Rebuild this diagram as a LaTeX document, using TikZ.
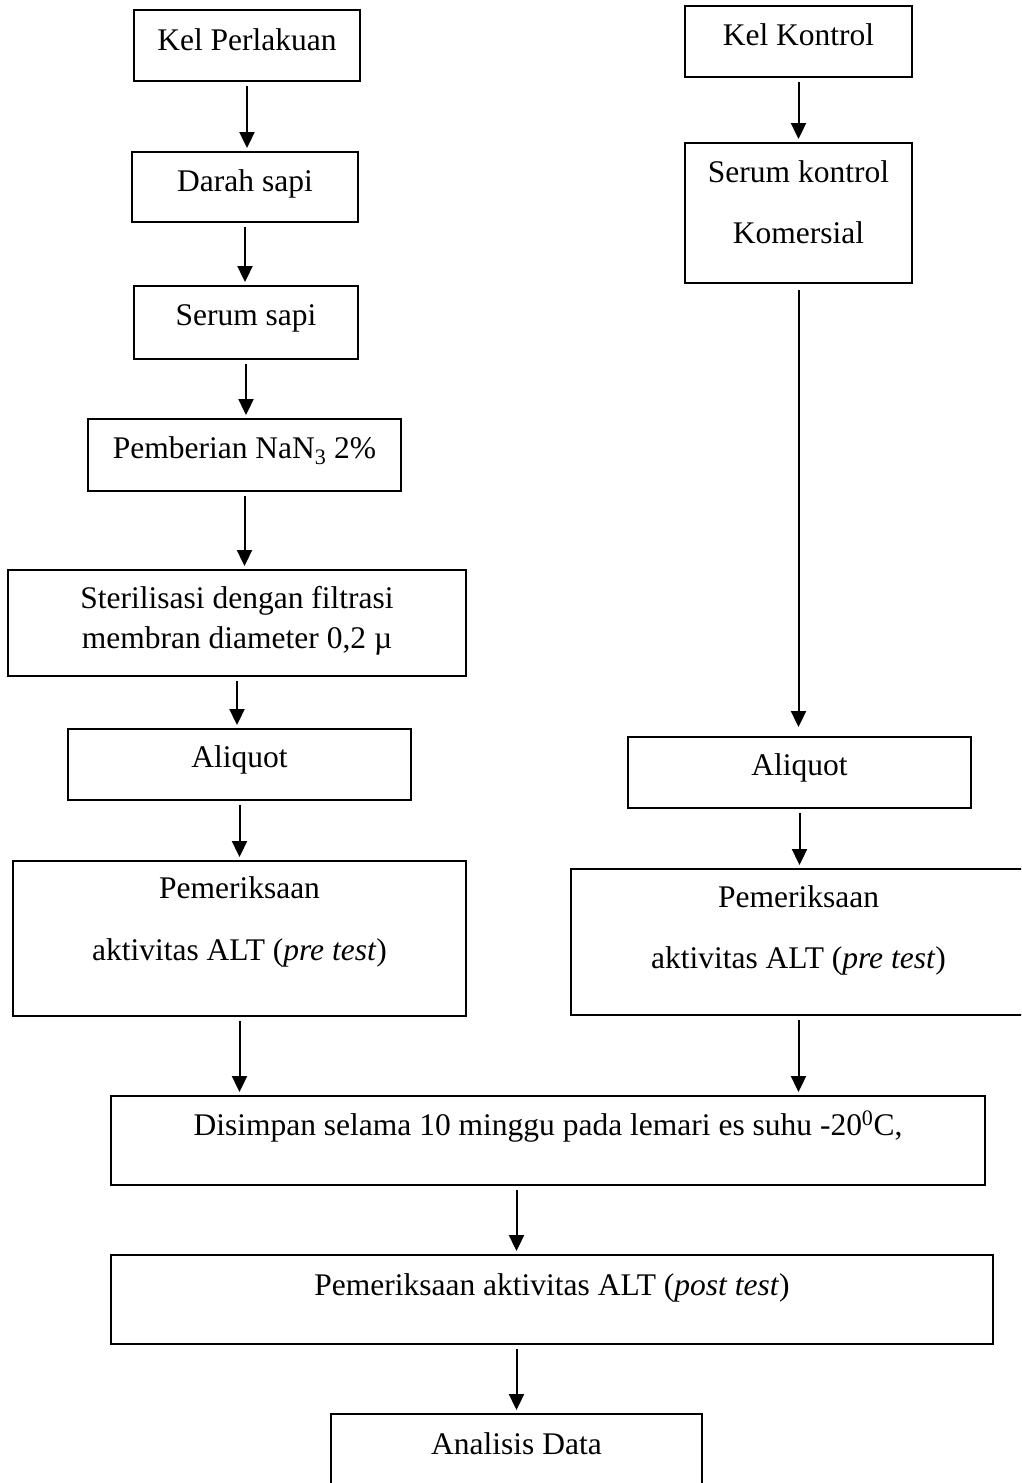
\documentclass[tikz,border=0pt]{standalone}
\usepackage{fontspec}
\setmainfont{Liberation Serif}
\usetikzlibrary{arrows.meta}

\tikzset{
  box/.style={draw, line width=1.9pt, inner sep=0pt, align=center,
              font=\fontsize{31.5}{40}\selectfont},
  arr/.style={-{Triangle[length=16pt, width=15pt]}, line width=2pt,
              shorten <=4pt, shorten >=3pt},
}

\begin{document}
\begin{tikzpicture}[x=1pt, y=-1pt]

  \useasboundingbox (0,0) rectangle (1021,1483);
  \clip (0,0) rectangle (1021,1483);

  % --- Kelompok perlakuan ---
  \node[box, minimum width=226pt, text height=40pt, text depth=31pt]
    (kp) at (247,45.5) {Kel Perlakuan};
  \node[box, minimum width=226pt, text height=39pt, text depth=31pt]
    (ds) at (245,187) {Darah sapi};
  \node[box, minimum width=224pt, text height=39pt, text depth=34pt]
    (ss) at (246,322.5) {Serum sapi};
  \node[box, minimum width=313pt, text height=39pt, text depth=33pt]
    (pn) at (244.5,455) {Pemberian NaN\textsubscript{3} 2\%};
  \node[box, minimum width=458pt, text height=78pt, text depth=28pt]
    (st) at (237,623) {Sterilisasi dengan filtrasi\\membran diameter 0,2 µ};
  \node[box, minimum width=343pt, text height=38pt, text depth=33pt]
    (al) at (239.5,764.5) {Aliquot};
  \node[box, minimum width=453pt, text height=99pt, text depth=56pt]
    (pl) at (239.5,938.5) {Pemeriksaan\\[22pt]aktivitas ALT (\textit{pre test})};

  % --- Kelompok kontrol ---
  \node[box, minimum width=227pt, text height=39pt, text depth=32pt]
    (kk) at (798.5,41.5) {Kel Kontrol};
  \node[box, minimum width=227pt, text height=100pt, text depth=40pt]
    (sk) at (798.5,213) {Serum kontrol\\[21pt]Komersial};
  \node[box, minimum width=343pt, text height=38pt, text depth=33pt]
    (ar) at (799.5,772.5) {Aliquot};
  \node[box, minimum width=455pt, text height=99pt, text depth=47pt]
    (pr) at (798.5,942) {Pemeriksaan\\[21pt]aktivitas ALT (\textit{pre test})};

  % --- Tahap akhir ---
  \node[box, minimum width=874pt, text height=39pt, text depth=50pt]
    (dis) at (548,1140.5) {Disimpan selama 10 minggu pada lemari es suhu -20\textsuperscript{0}C,};
  \node[box, minimum width=882pt, text height=40pt, text depth=49pt]
    (post) at (552,1299.5) {Pemeriksaan aktivitas ALT (\textit{post test})};
  \node[box, minimum width=371pt, text height=40pt, text depth=46pt]
    (ana) at (516.5,1457) {Analisis Data};

  % --- Panah kolom kiri ---
  \foreach \a/\b in {kp/ds, ds/ss, ss/pn, pn/st, st/al, al/pl, pl/dis}
    \draw[arr] (\a.south) -- (\a.south |- \b.north);

  % --- Panah kolom kanan ---
  \draw[arr] (kk.south) -- (kk.south |- sk.north);
  \draw[arr, shorten <=6pt, shorten >=9pt] (sk.south) -- (sk.south |- ar.north);
  \foreach \a/\b in {ar/pr, pr/dis}
    \draw[arr] (\a.south) -- (\a.south |- \b.north);

  % --- Panah bawah ---
  \draw[arr] (dis.south -| ana.north) -- (post.north -| ana.north);
  \draw[arr] (post.south -| ana.north) -- (ana.north);

\end{tikzpicture}
\end{document}
